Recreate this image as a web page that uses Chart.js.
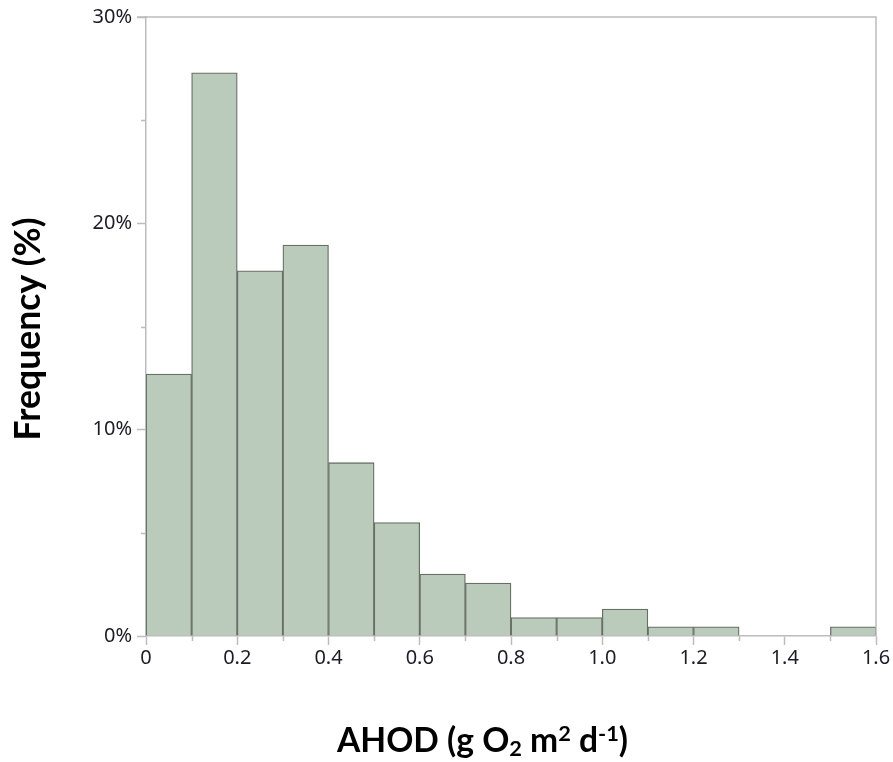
<!DOCTYPE html>
<html>
<head>
<meta charset="utf-8">
<script src="https://cdn.jsdelivr.net/npm/chart.js@4.4.1/dist/chart.umd.min.js"></script>
<style>
  html, body { margin: 0; padding: 0; background: #fff; }
  #wrap { position: relative; width: 893px; height: 762px; }
</style>
</head>
<body>
<div id="wrap"><canvas id="hist"></canvas></div>
<script>
// AHOD histogram - bin edges and share of lakes in each bin (%)
const binLow  = [0.0, 0.1, 0.2, 0.3, 0.4, 0.5, 0.6, 0.7, 0.8, 0.9, 1.0, 1.1, 1.2, 1.3, 1.4, 1.5];
const binHigh = [0.1, 0.2, 0.3, 0.4, 0.5, 0.6, 0.7, 0.8, 0.9, 1.0, 1.1, 1.2, 1.3, 1.4, 1.5, 1.6];
const frequency = [12.7, 27.3, 17.7, 18.95, 8.4, 5.5, 3.0, 2.57, 0.89, 0.89, 1.31, 0.45, 0.45, 0, 0, 0.45];

const yTicks = [0, 10, 20, 30];
const xTicks = [0, 0.2, 0.4, 0.6, 0.8, 1.0, 1.2, 1.4, 1.6];

const axisGray = '#bcbcbc';
const labelColor = '#1c1c26';
const titleFont = 'Lato, "Open Sans", sans-serif';

// bars sit on the centre of their bin
const points = frequency.map((f, i) => ({ x: (binLow[i] + binHigh[i]) / 2, y: f }));

function isMajorX(v) {
  return xTicks.some(t => Math.abs(t - v) < 1e-6);
}

// frame lines on top/right plus the short minor ticks
const framePlugin = {
  id: 'frame',
  afterDraw(chart) {
    const { ctx, chartArea } = chart;
    const xs = chart.scales.x, ys = chart.scales.y;
    ctx.save();
    ctx.strokeStyle = axisGray;
    ctx.lineWidth = 1.5;
    ctx.beginPath();
    ctx.moveTo(chartArea.left - 9, chartArea.top);
    ctx.lineTo(chartArea.right, chartArea.top);
    ctx.lineTo(chartArea.right, chartArea.bottom);
    ctx.stroke();

    ctx.beginPath();
    xs.ticks.forEach(t => {
      if (isMajorX(t.value)) return;
      const px = Math.round(xs.getPixelForValue(t.value)) + 0.5;
      ctx.moveTo(px, chartArea.bottom);
      ctx.lineTo(px, chartArea.bottom + 5);
    });
    ys.ticks.forEach(t => {
      if (yTicks.includes(t.value)) return;
      const py = Math.round(ys.getPixelForValue(t.value)) + 0.5;
      ctx.moveTo(chartArea.left, py);
      ctx.lineTo(chartArea.left - 5, py);
    });
    ctx.stroke();
    ctx.restore();
  }
};

// axis titles, the x one needs sub- and superscripts
const titlePlugin = {
  id: 'axisTitles',
  afterDraw(chart) {
    const ctx = chart.ctx;
    ctx.save();
    ctx.fillStyle = '#000';

    // y title, rotated
    const yText = 'Frequency (%)';
    ctx.font = 'bold 28px ' + titleFont;
    let size = 28 * 223 / ctx.measureText(yText).width;
    ctx.font = 'bold ' + size.toFixed(1) + 'px ' + titleFont;
    ctx.translate(29, 329);
    ctx.rotate(-Math.PI / 2);
    ctx.textAlign = 'center';
    ctx.textBaseline = 'middle';
    ctx.fillText(yText, 0, 0);
    ctx.setTransform(1, 0, 0, 1, 0, 0);

    // x title: AHOD (g O2 m2 d-1)
    const parts = [
      { t: 'AHOD (g O', k: 'n' },
      { t: '2', k: 'sub' },
      { t: ' m', k: 'n' },
      { t: '2', k: 'sup' },
      { t: ' d', k: 'n' },
      { t: '-1', k: 'sup' },
      { t: ')', k: 'n' }
    ];
    const measure = base => {
      let w = 0;
      parts.forEach(p => {
        ctx.font = 'bold ' + (p.k === 'n' ? base : base * 0.65) + 'px ' + titleFont;
        w += ctx.measureText(p.t).width;
      });
      return w;
    };
    let base = 28;
    base = base * 291 / measure(base);
    let x = 482.5 - measure(base) / 2;
    const baseline = 752;
    ctx.textAlign = 'left';
    ctx.textBaseline = 'alphabetic';
    parts.forEach(p => {
      const small = p.k !== 'n';
      ctx.font = 'bold ' + (small ? base * 0.65 : base).toFixed(1) + 'px ' + titleFont;
      let y = baseline;
      if (p.k === 'sub') y += base * 0.12;
      if (p.k === 'sup') y -= base * 0.34;
      ctx.fillText(p.t, x, y);
      x += ctx.measureText(p.t).width;
    });
    ctx.restore();
  }
};

const ctx = document.getElementById('hist').getContext('2d');

new Chart(ctx, {
  type: 'bar',
  data: {
    datasets: [{
      data: points,
      backgroundColor: '#bacabb',
      borderColor: '#687066',
      borderWidth: 1.3,
      borderSkipped: 'bottom',
      barPercentage: 1,
      categoryPercentage: 1
    }]
  },
  options: {
    responsive: true,
    maintainAspectRatio: false,
    animation: false,
    layout: { padding: { top: 17, right: 17, left: 0, bottom: 0 } },
    plugins: {
      legend: { display: false },
      tooltip: { enabled: false }
    },
    scales: {
      x: {
        type: 'linear',
        min: 0,
        max: 1.6,
        offset: false,
        afterFit(scale) { scale.height = 126; },
        border: { display: true, color: axisGray, width: 1.5 },
        grid: {
          offset: false,
          drawOnChartArea: false,
          tickLength: 9,
          tickColor: c => (c.tick && isMajorX(c.tick.value)) ? axisGray : 'rgba(0,0,0,0)',
          tickWidth: 1.5
        },
        ticks: {
          stepSize: 0.1,
          autoSkip: false,
          maxRotation: 0,
          padding: 1,
          color: labelColor,
          font: { family: '"Noto Sans", sans-serif', size: 20 },
          callback: v => {
            if (!isMajorX(v)) return '';
            return Math.abs(v) < 1e-6 ? '0' : v.toFixed(1);
          }
        }
      },
      y: {
        min: 0,
        max: 30,
        afterFit(scale) { scale.width = 146; },
        border: { display: true, color: axisGray, width: 1.5 },
        grid: {
          drawOnChartArea: false,
          tickLength: 9,
          tickColor: c => (c.tick && yTicks.includes(c.tick.value)) ? axisGray : 'rgba(0,0,0,0)',
          tickWidth: 1.5
        },
        ticks: {
          stepSize: 5,
          padding: 5,
          color: labelColor,
          font: { family: '"Noto Sans", sans-serif', size: 20 },
          callback: v => yTicks.includes(v) ? v + '%' : ''
        }
      }
    }
  },
  plugins: [framePlugin, titlePlugin]
});
</script>
</body>
</html>
